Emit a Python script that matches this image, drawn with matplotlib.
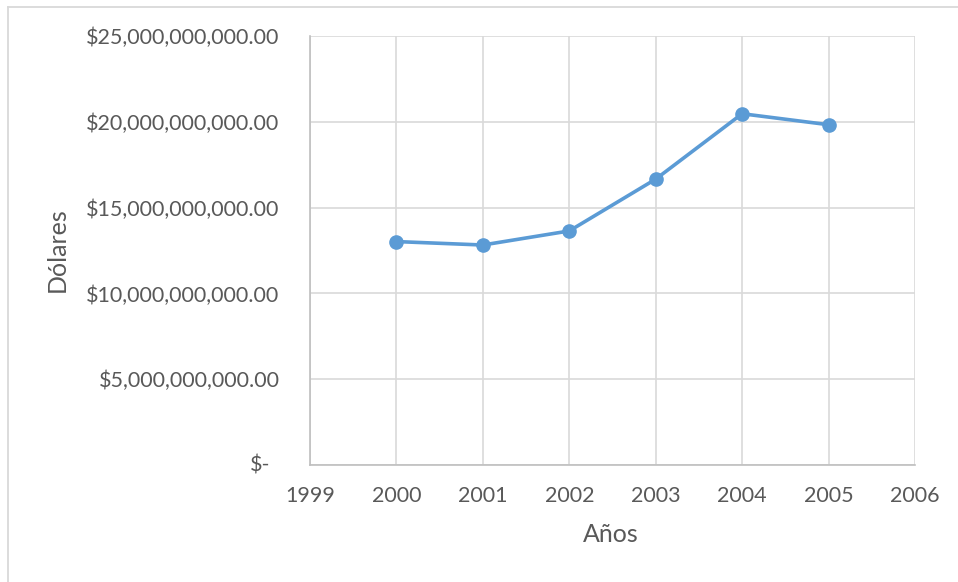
import matplotlib.pyplot as plt
from matplotlib.lines import Line2D
from matplotlib.ticker import FuncFormatter, MultipleLocator

# datos
anios = [2000, 2001, 2002, 2003, 2004, 2005]
dolares = [13.02e9, 12.82e9, 13.64e9, 16.66e9, 20.47e9, 19.83e9]

azul = "#5b9bd5"
gris_texto = "#595959"
gris_linea = "#d9d9d9"

plt.rcParams["font.family"] = ["Lato", "DejaVu Sans"]

fig = plt.figure(figsize=(9.58, 5.82), dpi=100)
W, H = 958, 582
ax = fig.add_axes([310 / W, 1 - 465 / H, 605 / W, 429 / H])

ax.plot(anios, dolares, color=azul, linewidth=2.6, marker="o", markersize=9.5,
        zorder=3, clip_on=False)

ax.set_xlim(1999, 2006)
ax.set_ylim(0, 25e9)
ax.xaxis.set_major_locator(MultipleLocator(1))
ax.yaxis.set_major_locator(MultipleLocator(5e9))
ax.grid(True, color=gris_linea, linewidth=1.2)
ax.set_axisbelow(True)

def fmt_dolar(v, pos):
    if v == 0:
        return ""
    return "${:,.2f}".format(v)

ax.yaxis.set_major_formatter(FuncFormatter(fmt_dolar))
ax.xaxis.set_major_formatter(FuncFormatter(lambda v, p: "%d" % v))
ax.tick_params(length=0, labelsize=15.5, colors=gris_texto)
ax.tick_params(axis="y", pad=22)
ax.tick_params(axis="x", pad=15)

# el cero se muestra como "$-" en formato contable
ax.annotate("$-", xy=(0, 0), xycoords="axes fraction", xytext=(-40, 0),
            textcoords="offset pixels", ha="right", va="center",
            fontsize=15.5, color=gris_texto)

for lado in ["top", "right"]:
    ax.spines[lado].set_visible(False)
ax.spines["left"].set_color("#bfbfbf")
ax.spines["bottom"].set_color("#bfbfbf")
ax.spines["left"].set_linewidth(1.2)
ax.spines["bottom"].set_linewidth(1.2)

ax.set_xlabel("Años", fontsize=18, color=gris_texto, va="center")
ax.set_ylabel("Dólares", fontsize=18, color=gris_texto, va="center")
ax.xaxis.set_label_coords((611 - 310) / 605, (465 - 535) / 429)
ax.yaxis.set_label_coords((57 - 310) / 605, (465 - 250) / 429)

# borde del area del grafico
fig.add_artist(Line2D([8 / W, 8 / W], [0, 1 - 7 / H], color=gris_linea, linewidth=1.3))
fig.add_artist(Line2D([8 / W, 1], [1 - 7 / H, 1 - 7 / H], color=gris_linea, linewidth=1.3))

plt.savefig("out.png", dpi=100)
plt.close()
